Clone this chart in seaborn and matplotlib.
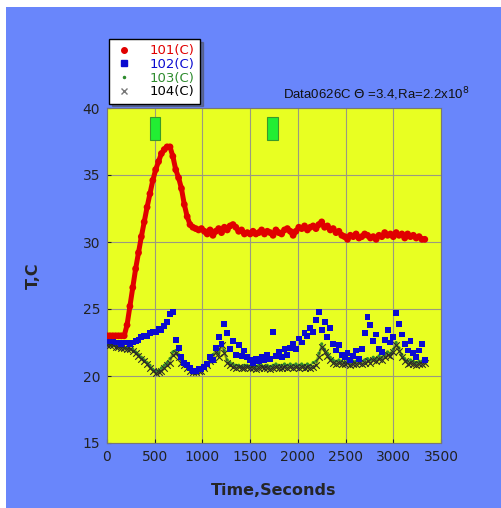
import numpy as np
import pandas as pd
import matplotlib
matplotlib.use("Agg")
import matplotlib.pyplot as plt
import matplotlib.patches as mpatches
from matplotlib.lines import Line2D
import seaborn as sns

sns.set_style("ticks")
plt.rcParams['font.family'] = ['DejaVu Sans']

# -------------------------
# Data (30 s sampling)
# -------------------------
time_s = np.arange(0, 3360, 30)

t101 = [23.0, 23.0, 23.0, 23.0, 23.0, 23.0, 23.0, 23.8, 25.2, 26.6,
        28.0, 29.2, 30.4, 31.5, 32.6, 33.6, 34.6, 35.4, 36.0, 36.6,
        36.9, 37.1, 37.1, 36.4, 35.4, 34.8, 34.0, 32.8, 31.9, 31.3,
        31.1, 31.0, 30.9, 31.0, 30.8, 30.6, 30.9, 30.5, 30.8, 31.0,
        30.7, 31.1, 30.9, 31.2, 31.3, 31.1, 30.8, 30.9, 30.6, 30.7,
        30.6, 30.8, 30.6, 30.7, 30.9, 30.6, 30.8, 30.7, 30.5, 30.9,
        30.7, 30.6, 30.9, 31.0, 30.8, 30.5, 30.8, 31.1, 31.0, 31.2,
        30.9, 31.1, 31.2, 31.0, 31.3, 31.5, 31.1, 31.2, 30.9, 31.0,
        30.7, 30.8, 30.5, 30.4, 30.2, 30.5, 30.4, 30.6, 30.3, 30.4,
        30.6, 30.5, 30.3, 30.4, 30.2, 30.5, 30.4, 30.7, 30.5, 30.6,
        30.4, 30.7, 30.5, 30.6, 30.3, 30.6, 30.4, 30.5, 30.3, 30.4,
        30.2, 30.2]

t102 = [22.7, 22.6, 22.6, 22.5, 22.5, 22.4, 22.5, 22.5, 22.4, 22.5,
        22.6, 22.7, 22.9, 23.0, 23.0, 23.2, 23.3, 23.3, 23.5, 23.4,
        23.7, 24.0, 24.6, 24.8, 22.7, 22.1, 21.4, 21.0, 20.8, 20.6,
        20.4, 20.4, 20.5, 20.5, 20.7, 20.9, 21.4, 21.2, 22.1, 22.9,
        22.4, 23.9, 23.2, 22.0, 22.6, 21.6, 22.3, 21.5, 21.9, 21.4,
        21.2, 21.0, 21.3, 21.1, 21.4, 21.2, 21.6, 21.3, 23.3, 21.5,
        21.8, 21.4, 22.0, 21.6, 22.1, 22.4, 22.0, 22.8, 22.5, 23.2,
        23.0, 23.6, 23.3, 24.2, 24.8, 23.4, 24.0, 22.9, 23.6, 22.4,
        21.9, 22.3, 21.6, 21.4, 21.7, 21.2, 21.5, 21.9, 21.3, 22.0,
        23.2, 24.4, 23.8, 22.6, 23.1, 22.0, 21.8, 22.7, 23.4, 22.5,
        22.9, 24.7, 23.9, 23.1, 22.4, 21.9, 22.6, 21.7, 21.4, 21.9,
        22.4, 21.2]

t103 = [22.4, 22.3, 22.3, 22.3, 22.2, 22.2, 22.1, 22.1, 22.0, 22.0,
        21.8, 21.6, 21.4, 21.2, 21.0, 20.8, 20.5, 20.4, 20.4, 20.6,
        20.8, 21.0, 21.3, 21.8, 21.9, 21.6, 21.2, 20.9, 20.7, 20.5,
        20.4, 20.4, 20.5, 20.6, 20.8, 21.0, 21.3, 21.6, 22.0, 21.7,
        22.5, 21.9, 21.2, 21.0, 20.9, 20.8, 20.8, 20.7, 20.8, 20.8,
        20.7, 20.8, 20.7, 20.8, 20.8, 20.7, 20.8, 20.7, 20.8, 20.9,
        20.8, 20.8, 20.9, 20.8, 20.9, 20.8, 20.9, 20.8, 20.9, 20.8,
        20.9, 20.8, 21.0, 21.1, 21.7, 22.4, 22.0, 21.7, 21.4, 21.2,
        21.1, 21.2, 21.1, 21.0, 21.2, 21.0, 21.1, 21.1, 21.2, 21.1,
        21.2, 21.3, 21.2, 21.4, 21.3, 21.5, 21.4, 21.6, 21.8, 21.7,
        22.0, 22.5, 22.1, 21.6, 21.3, 21.1, 21.2, 21.1, 21.0, 21.1,
        21.1, 21.2]

t104 = [22.3, 22.3, 22.3, 22.2, 22.2, 22.1, 22.1, 22.0, 22.0, 21.9,
        21.7, 21.5, 21.3, 21.1, 20.9, 20.6, 20.4, 20.2, 20.3, 20.4,
        20.6, 20.8, 21.0, 21.6, 21.7, 21.4, 21.0, 20.8, 20.6, 20.4,
        20.3, 20.3, 20.4, 20.4, 20.6, 20.8, 21.1, 21.3, 21.8, 21.4,
        22.3, 21.7, 21.0, 20.8, 20.7, 20.6, 20.7, 20.6, 20.6, 20.7,
        20.6, 20.6, 20.5, 20.6, 20.7, 20.6, 20.6, 20.5, 20.6, 20.7,
        20.6, 20.6, 20.7, 20.6, 20.7, 20.6, 20.7, 20.6, 20.7, 20.6,
        20.7, 20.6, 20.7, 20.8, 21.4, 22.2, 21.8, 21.5, 21.2, 21.0,
        20.9, 21.0, 20.9, 20.9, 21.0, 20.8, 20.9, 20.9, 21.0, 20.9,
        21.0, 21.1, 21.0, 21.2, 21.1, 21.3, 21.2, 21.4, 21.6, 21.5,
        21.8, 22.3, 21.9, 21.4, 21.1, 20.9, 21.0, 20.9, 20.8, 20.9,
        20.9, 21.0]

# green event markers
event_times = [503, 1730]
event_bottom = 37.6
event_top = 39.3

x_ticks = [0, 500, 1000, 1500, 2000, 2500, 3000, 3500]
y_ticks = [15, 20, 25, 30, 35, 40]

# -------------------------
# Figure
# -------------------------
fig = plt.figure(figsize=(5.02, 5.08), dpi=100)
fig.patch.set_facecolor("white")
fig.patches.append(mpatches.Rectangle((6 / 502, 0), 1, (508 - 7) / 508,
                                      transform=fig.transFigure,
                                      facecolor="#6986fb", edgecolor="none",
                                      zorder=-10))

ax = fig.add_axes([107 / 502, 65 / 508, 334 / 502, 335 / 508])
ax.set_facecolor("#e8ff22")

# dense sensor traces: thin connecting line + markers
sns.lineplot(x=time_s, y=t103, ax=ax, color="#2e8b2e", linewidth=1.0,
             alpha=0.6, zorder=3)
sns.scatterplot(x=time_s, y=t103, ax=ax, marker="o", s=5, color="#2e8b2e",
                edgecolor="none", zorder=3, legend=False)
sns.lineplot(x=time_s, y=t104, ax=ax, color="#333322", linewidth=1.2,
             alpha=0.5, zorder=4)
sns.scatterplot(x=time_s, y=t104, ax=ax, marker="x", s=22, color="#2a2a2a",
                linewidth=0.8, zorder=4, legend=False)
sns.scatterplot(x=time_s, y=t102, ax=ax, marker="s", s=18, color="#0b0bd0",
                edgecolor="none", zorder=5, legend=False)
sns.lineplot(x=time_s, y=t101, ax=ax, color="#e00000", linewidth=3.6,
             zorder=6)
sns.scatterplot(x=time_s, y=t101, ax=ax, marker="o", s=24, color="#e00000",
                edgecolor="none", zorder=6, legend=False)

ax.bar(event_times, event_top - event_bottom, bottom=event_bottom, width=115,
       color="#22ee33", edgecolor="#3a9a2a", linewidth=0.8, zorder=2)

ax.set_xlim(0, 3500)
ax.set_ylim(15, 40)
ax.set_xticks(x_ticks)
ax.set_yticks(y_ticks)
ax.grid(True, color="#9a9a80", linewidth=0.8)
ax.set_axisbelow(True)
ax.tick_params(direction="in", length=3, labelsize=10, colors="#222222",
               pad=5)
for sp in ax.spines.values():
    sp.set_color("#777777")
    sp.set_linewidth(0.8)

ax.set_xlabel("Time,Seconds", fontsize=11.5, fontweight="bold", labelpad=14)
ax.set_ylabel("T,C", fontsize=11.5, fontweight="bold", labelpad=30)

fig.text(283 / 502, (508 - 99) / 508,
         r"Data0626C $\Theta$ =3.4,Ra=2.2x10$^{8}$",
         fontsize=9.5, family=["Liberation Sans", "DejaVu Sans"],
         ha="left", va="baseline", color="#111111")

handles = [
    Line2D([], [], linestyle="", marker="o", markersize=4, color="#e00000"),
    Line2D([], [], linestyle="", marker="s", markersize=4, color="#0b0bd0"),
    Line2D([], [], linestyle="", marker="o", markersize=1.5, color="#2e8b2e"),
    Line2D([], [], linestyle="", marker="x", markersize=5, color="#777777"),
]
labels = ["101(C)", "102(C)", "103(C)", "104(C)"]
leg = fig.legend(handles, labels, loc="upper left",
                 bbox_to_anchor=(109 / 502, (508 - 39) / 508),
                 fontsize=9.5, fancybox=False, shadow=True, framealpha=1,
                 edgecolor="black", handletextpad=1.2, borderpad=0.4,
                 labelspacing=0.05, handlelength=1.5, borderaxespad=0)
for txt, c in zip(leg.get_texts(), ["#e00000", "#0b0bd0", "#2e8b2e", "black"]):
    txt.set_color(c)

plt.savefig("out.png", dpi=100)
